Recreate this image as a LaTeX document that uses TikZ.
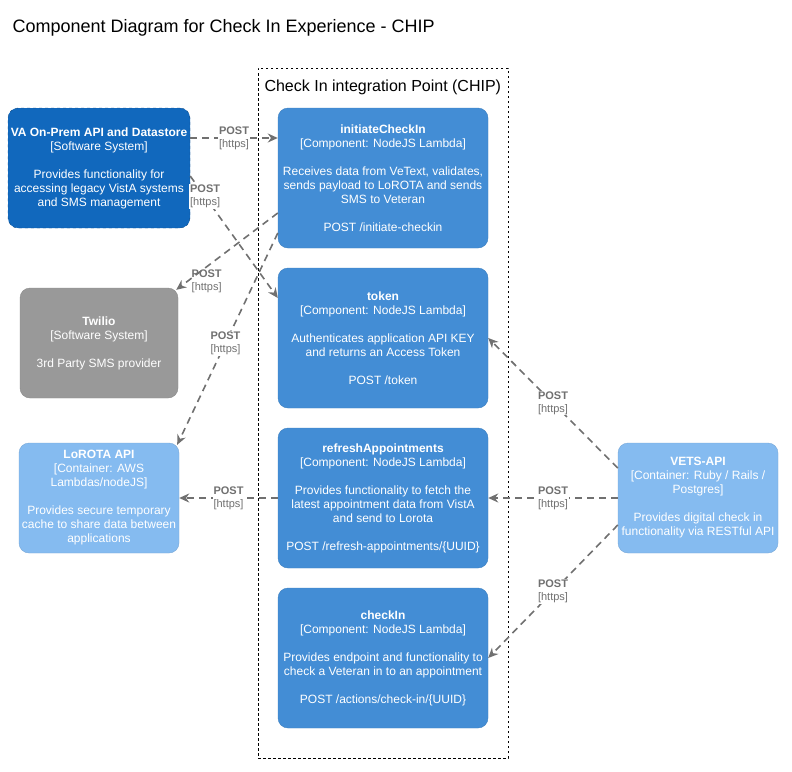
\documentclass[tikz,border=0pt]{standalone}
\usepackage{fontspec}
\setmainfont{Liberation Sans}
\usetikzlibrary{positioning}
\usetikzlibrary{arrows.meta}
\definecolor{sysdark}{HTML}{1168BD}
\definecolor{sysdarkline}{HTML}{0B4884}
\definecolor{compblue}{HTML}{438DD5}
\definecolor{compline}{HTML}{3C7FC0}
\definecolor{contlight}{HTML}{85BBF0}
\definecolor{contline}{HTML}{78A8D8}
\definecolor{extgray}{HTML}{999999}
\definecolor{extline}{HTML}{8A8A8A}
\definecolor{relgray}{HTML}{707070}
\tikzset{
	box/.style = {rectangle, rounded corners=10pt, draw, text=white, align=center,
		font=\fontsize{12}{14}\selectfont, inner sep=2pt},
	system/.style = {box, fill=sysdark, draw=sysdarkline, dashed, minimum width=182pt, minimum height=120pt},
	external/.style = {box, fill=extgray, draw=extline, minimum width=158pt, minimum height=110pt},
	container/.style = {box, fill=contlight, draw=contline, minimum width=160pt, minimum height=110pt},
	component/.style = {box, fill=compblue, draw=compline, minimum width=210pt, minimum height=140pt},
	boundary/.style = {rectangle, draw, line width=0.8pt, dash pattern=on 2.5pt off 2.5pt,
		minimum width=250pt, minimum height=690pt},
	rel/.style = {draw=relgray, line width=1.6pt, dash pattern=on 7pt off 5pt,
		-{Stealth[length=10pt,width=9pt]}},
	lbl/.style = {fill=white, inner sep=1pt, text=relgray, align=center,
		font=\fontsize{11}{13}\selectfont}
}

\begin{document}
\begin{tikzpicture}[x=1pt, y=-1pt]
	\useasboundingbox (0,0) rectangle (792,771);
	% Title
	\node[anchor=west, font=\fontsize{18}{21}\selectfont] (title) at (9, 28) {Component Diagram for Check In Experience - CHIP};
	
	% boundary
	\node[boundary] (chip) at (383, 413) {};
	\node[anchor=west, font=\fontsize{16}{19}\selectfont] (chiplabel) at (261, 87) {Check In integration Point (CHIP)};
	
	% outside
	\node[system] (va) at (99, 168) {\textbf{VA On-Prem API and Datastore}\\{[Software System]}\\[14pt]Provides functionality for\\accessing legacy VistA systems\\and SMS management};
	\node[external] (twilio) at (99, 343) {\textbf{Twilio}\\{[Software System]}\\[14pt]3rd Party SMS provider};
	\node[container] (lorota) at (99, 498) {\textbf{LoROTA API}\\{[Container: AWS}\\Lambdas/nodeJS]\\[14pt]Provides secure temporary\\cache to share data between\\applications};
	\node[container] (vets) at (698, 498) {\textbf{VETS-API}\\{[Container: Ruby / Rails /}\\Postgres]\\[14pt]Provides digital check in\\functionality via RESTful API};
	
	% components
	\node[component] (initiate) at (383, 178) {\textbf{initiateCheckIn}\\{[Component: NodeJS Lambda]}\\[14pt]Receives data from VeText, validates,\\sends payload to LoROTA and sends\\SMS to Veteran\\[14pt]POST /initiate-checkin};
	\node[component] (token) at (383, 338) {\textbf{token}\\{[Component: NodeJS Lambda]}\\[14pt]Authenticates application API KEY\\and returns an Access Token\\[14pt]POST /token};
	\node[component] (refresh) at (383, 498) {\textbf{refreshAppointments}\\{[Component: NodeJS Lambda]}\\[14pt]Provides functionality to fetch the\\latest appointment data from VistA\\and send to Lorota\\[14pt]POST /refresh-appointments/\{UUID\}};
	\node[component] (checkin) at (383, 658) {\textbf{checkIn}\\{[Component: NodeJS Lambda]}\\[14pt]Provides endpoint and functionality to\\check a Veteran in to an appointment\\[14pt]POST /actions/check-in/\{UUID\}};
	
	\path ([yshift=30pt]va.east) edge[rel] node[lbl] {\textbf{POST}\\{[https]}} ([yshift=40pt]initiate.west);
	\path ([yshift=-8pt]va.east) edge[rel] node[lbl, pos=0.17] {\textbf{POST}\\{[https]}} ([yshift=40pt]token.west);
	\path ([yshift=-35pt]initiate.west) edge[rel] node[lbl, pos=0.7, yshift=-15pt, fill=none] {\textbf{POST}\\{[https]}} ([xshift=-2pt,yshift=-2pt]twilio.north east);
	\path ([yshift=-55pt]initiate.west) edge[rel] node[lbl, pos=0.52] {\textbf{POST}\\{[https]}} ([xshift=-2pt,yshift=-2pt]lorota.north east);
	\path (refresh.west) edge[rel] node[lbl] {\textbf{POST}\\{[https]}} (lorota.east);
	\path ([yshift=30pt]vets.west) edge[rel] node[lbl] {\textbf{POST}\\{[https]}} (token.east);
	\path (vets.west) edge[rel] node[lbl] {\textbf{POST}\\{[https]}} (refresh.east);
	\path ([yshift=-27pt]vets.west) edge[rel] node[lbl] {\textbf{POST}\\{[https]}} (checkin.east);
	
\end{tikzpicture}
\end{document}
